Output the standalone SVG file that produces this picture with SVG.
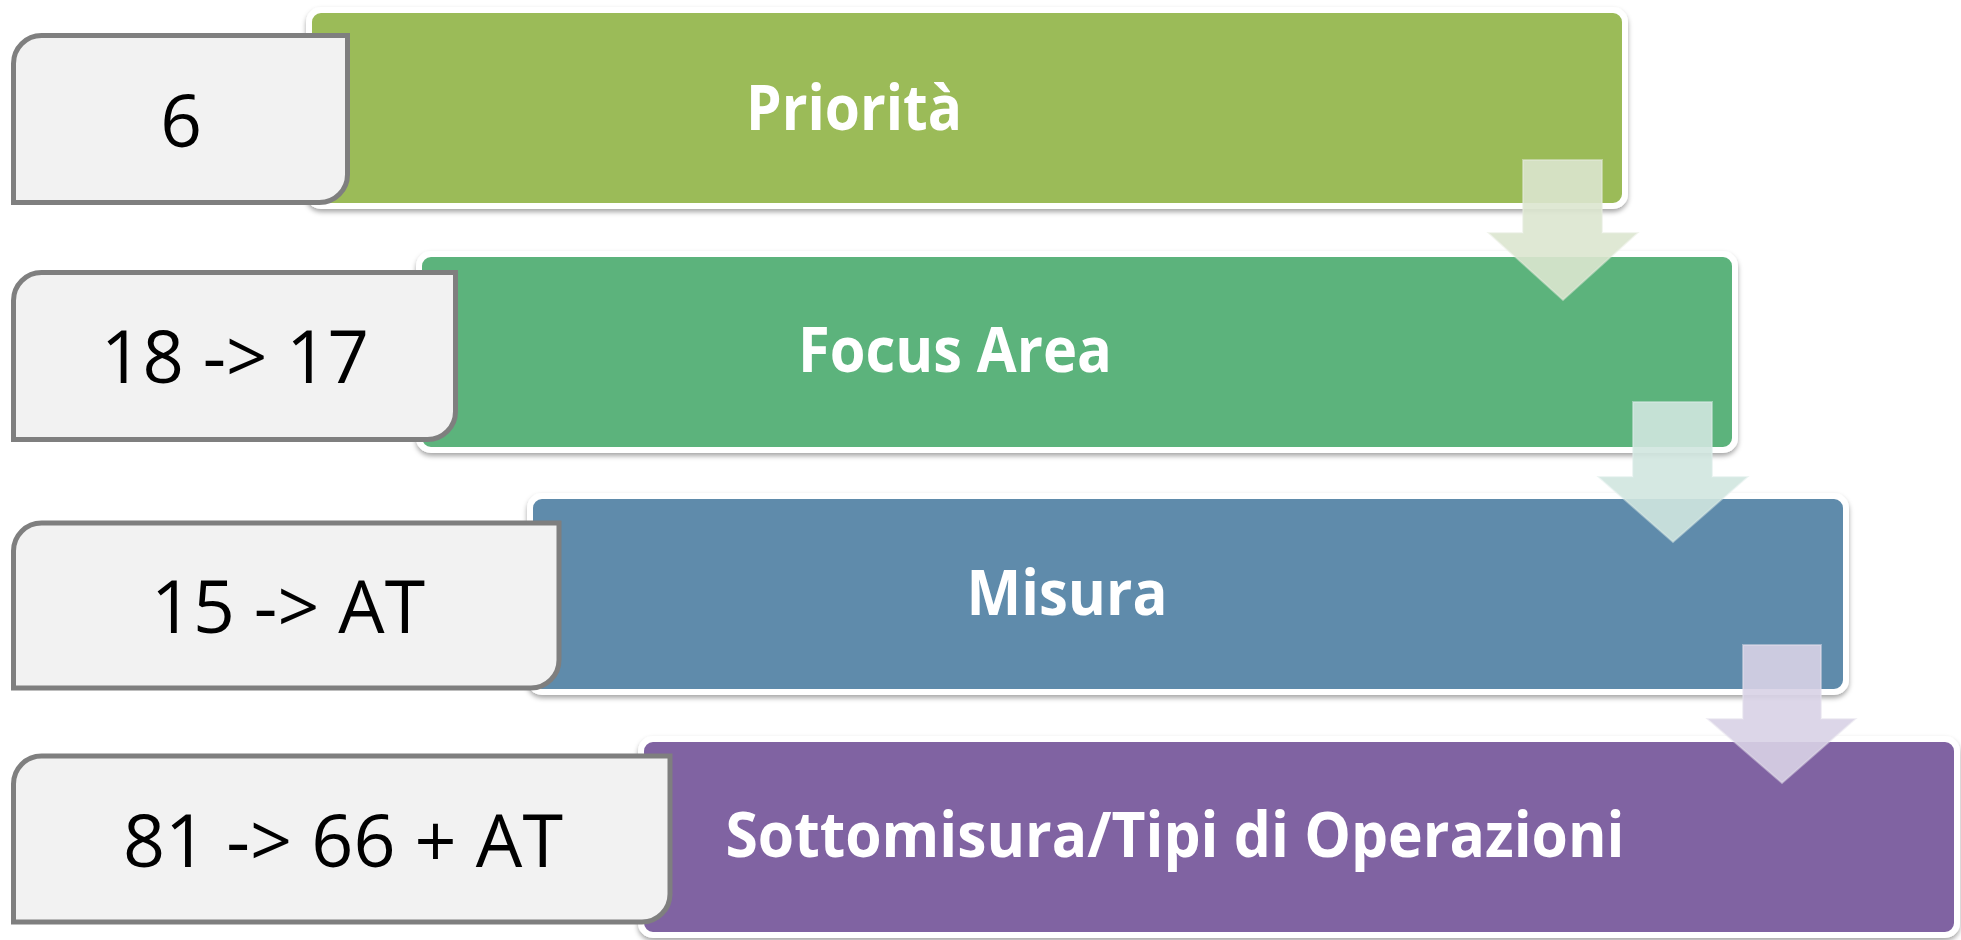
<svg xmlns="http://www.w3.org/2000/svg" width="1961" height="940" viewBox="0 0 1961 940">
<defs>
<filter id="sh" x="-5%" y="-10%" width="110%" height="125%">
<feDropShadow dx="0" dy="3" stdDeviation="2.5" flood-color="#000" flood-opacity="0.35"/>
</filter>
</defs>
<style>
.main{stroke:#ffffff;stroke-width:6;filter:url(#sh)}
.num{fill:#f2f2f2;stroke:#7f7f7f;stroke-width:5}
.lbl{font-family:"Open Sans","Liberation Sans",sans-serif;font-weight:700;font-size:63px;fill:#ffffff;text-anchor:middle}
.val{font-family:"Open Sans","Liberation Sans",sans-serif;font-weight:400;font-size:73px;fill:#000000;text-anchor:middle}
.arr{stroke-width:2;stroke-opacity:0.5}
</style>
<rect width="1961" height="940" fill="#ffffff"/>
<g id="node-priorita">
<rect class="main" x="309" y="10" width="1316" height="196" rx="12" fill="#9bbb59"/>
<text class="lbl" x="854" y="130" textLength="216" lengthAdjust="spacingAndGlyphs">Priorità</text>
</g>
<g id="node-6">
<path class="num" d="M13.5,63.5 A28,28 0 0 1 41.5,35.5 H347.5 V174.5 A28,28 0 0 1 319.5,202.5 H13.5 Z"/>
<text class="val" x="181" y="147">6</text>
</g>
<g id="node-focus">
<rect class="main" x="419" y="254" width="1316" height="196" rx="12" fill="#5cb37c"/>
<text class="lbl" x="955" y="372" textLength="314" lengthAdjust="spacingAndGlyphs">Focus Area</text>
</g>
<g id="node-18-17">
<path class="num" d="M13.5,300.5 A28,28 0 0 1 41.5,272.5 H455.5 V411.5 A28,28 0 0 1 427.5,439.5 H13.5 Z"/>
<text class="val" x="235" y="383" textLength="268" lengthAdjust="spacingAndGlyphs">18 -&gt; 17</text>
</g>
<g id="node-misura">
<rect class="main" x="530" y="496" width="1316" height="196" rx="12" fill="#5f8bab"/>
<text class="lbl" x="1067" y="615" textLength="201" lengthAdjust="spacingAndGlyphs">Misura</text>
</g>
<g id="node-15-at">
<path class="num" d="M13.5,551 A28,28 0 0 1 41.5,523 H559 V660 A28,28 0 0 1 531,688 H13.5 Z"/>
<text class="val" x="288" y="633" textLength="274" lengthAdjust="spacingAndGlyphs">15 -&gt; AT</text>
</g>
<g id="node-sottomisura">
<rect class="main" x="641" y="739" width="1316" height="196" rx="12" fill="#8064a2"/>
<text class="lbl" x="1175" y="857" textLength="899" lengthAdjust="spacingAndGlyphs">Sottomisura/Tipi di Operazioni</text>
</g>
<g id="node-81-66">
<path class="num" d="M13.5,784 A28,28 0 0 1 41.5,756 H670 V894 A28,28 0 0 1 642,922 H13.5 Z"/>
<text class="val" x="343" y="867" textLength="440" lengthAdjust="spacingAndGlyphs">81 -&gt; 66 + AT</text>
</g>
<g id="connectors">
<polygon class="arr" points="1523,160 1602,160 1602,233 1637,233 1563,300 1489,233 1523,233" fill="#dbe5cf" fill-opacity="0.9" stroke="#e6ecdd"/>
<polygon class="arr" points="1633,402 1712,402 1712,477 1747,477 1673,542 1599,477 1633,477" fill="#d0e5df" fill-opacity="0.9" stroke="#dcece8"/>
<polygon class="arr" points="1743,645 1821,645 1821,719 1855,719 1782,783 1708,719 1743,719" fill="#d8d2e5" fill-opacity="0.9" stroke="#e3dfec"/>
</g>
</svg>
